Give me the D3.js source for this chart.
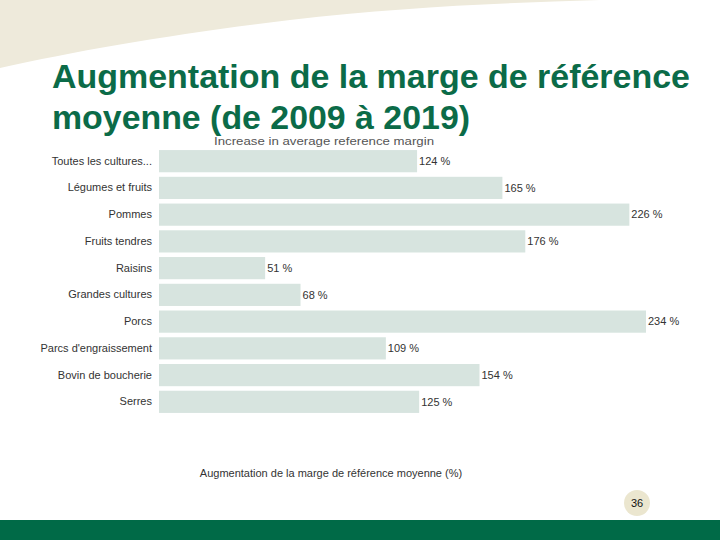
<!DOCTYPE html>
<html>
<head>
<meta charset="utf-8">
<script src="https://cdn.jsdelivr.net/npm/d3@7"></script>
<style>
  html, body { margin: 0; padding: 0; background: #ffffff; }
  svg { display: block; font-family: "Liberation Sans", Arial, sans-serif; }
</style>
</head>
<body>
<svg id="chart" width="720" height="540"></svg>
<script>
const categories = [
  "Toutes les cultures...",
  "Légumes et fruits",
  "Pommes",
  "Fruits tendres",
  "Raisins",
  "Grandes cultures",
  "Porcs",
  "Parcs d'engraissement",
  "Bovin de boucherie",
  "Serres"
];
const values = [124, 165, 226, 176, 51, 68, 234, 109, 154, 125];
const titleLines = ["Augmentation de la marge de référence", "moyenne (de 2009 à 2019)"];
const subtitle = "Increase in average reference margin";
const axisTitle = "Augmentation de la marge de référence moyenne (%)";
const pageNumber = "36";

const svg = d3.select("#chart");

// background swoosh
svg.append("path")
  .attr("d", "M0,0 L600,0 C500,3 400,7 290,20 C180,33 80,50 0,68 Z")
  .attr("fill", "#eeeadb");

// footer
svg.append("rect").attr("x", 0).attr("y", 520).attr("width", 720).attr("height", 20).attr("fill", "#006a47");

// title
const tW = [638, 418];
titleLines.forEach((t, i) => {
  svg.append("text")
    .attr("x", 52).attr("y", 88 + i * 41)
    .attr("font-size", 33).attr("font-weight", "bold")
    .attr("fill", "#0b6b48")
    .attr("textLength", tW[i]).attr("lengthAdjust", "spacingAndGlyphs")
    .text(t);
});

// subtitle (just below the title so the texts do not collide)
svg.append("text")
  .attr("x", 214).attr("y", 145)
  .attr("font-size", 11).attr("fill", "#555")
  .attr("textLength", 220).attr("lengthAdjust", "spacingAndGlyphs")
  .text(subtitle);

// scales
const x = d3.scaleLinear().domain([0, 234]).range([159, 646]);
const y = d3.scaleBand().domain(categories).range([149, 414]).paddingInner(0.17).paddingOuter(0.04);

const g = svg.append("g");

g.selectAll("rect.bar").data(categories).join("rect")
  .attr("class", "bar")
  .attr("x", x(0))
  .attr("y", d => y(d))
  .attr("width", (d, i) => x(values[i]) - x(0))
  .attr("height", y.bandwidth())
  .attr("fill", "#d7e4df");

// category axis (labels only)
const yAxis = d3.axisLeft(y).tickSize(0).tickPadding(7);
const ya = g.append("g").attr("transform", `translate(${x(0)},0)`).call(yAxis);
ya.select(".domain").remove();
ya.selectAll("text").attr("font-size", 11).attr("fill", "#333")
  .attr("font-family", "'Liberation Sans', Arial, sans-serif");

// value labels
g.selectAll("text.val").data(categories).join("text")
  .attr("class", "val")
  .attr("x", (d, i) => x(values[i]) + 2)
  .attr("y", d => y(d) + y.bandwidth() / 2)
  .attr("dy", "0.35em")
  .attr("font-size", 11).attr("fill", "#333")
  .text((d, i) => values[i] + " %");

// axis title
svg.append("text")
  .attr("x", 331).attr("y", 477)
  .attr("text-anchor", "middle")
  .attr("font-size", 11).attr("fill", "#333")
  .text(axisTitle);

// page number
svg.append("circle").attr("cx", 637).attr("cy", 503).attr("r", 13).attr("fill", "#ebe6cf");
svg.append("text").attr("x", 637).attr("y", 503).attr("dy", "0.35em")
  .attr("text-anchor", "middle").attr("font-size", 11).attr("fill", "#111")
  .text(pageNumber);
</script>
</body>
</html>
